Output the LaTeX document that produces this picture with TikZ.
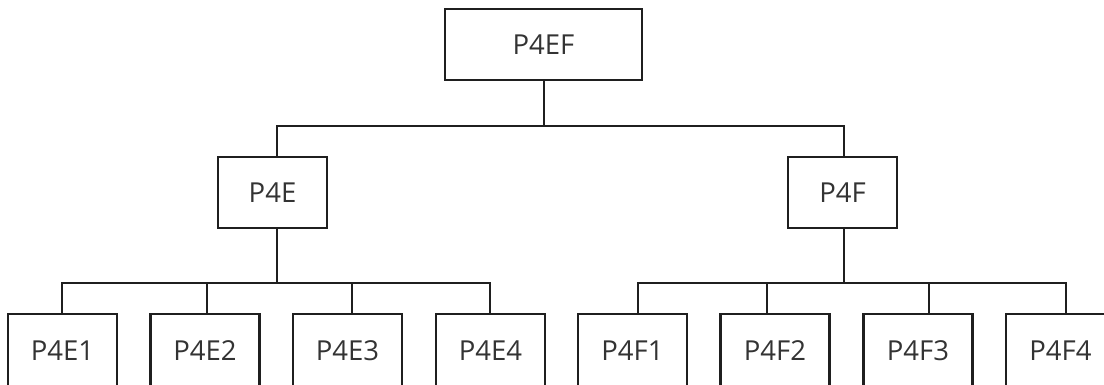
\documentclass[tikz,border=0pt]{standalone}
\usepackage{fontspec}
\setmainfont{Open Sans}
\begin{document}
\begin{tikzpicture}[x=1pt,y=-1pt,
  box/.style={draw=black!88, line width=2.2pt, minimum height=71pt, inner sep=0pt,
    font=\fontsize{27.5}{32}\selectfont, text=black!80},
  bigbox/.style={box, minimum width=197pt},
  midbox/.style={box, minimum width=109pt},
  leaf/.style={box, minimum width=109pt, minimum height=73pt},
  ln/.style={draw=black!88, line width=2.2pt, line join=miter}]
\path[use as bounding box, clip] (0,0) rectangle (1104,385);

\node[bigbox] (ef) at (543.5,44.5) {P4EF};
\node[midbox] (e) at (272.5,192.5) {P4E};
\node[midbox] (f) at (842.5,192.5) {P4F};

\node[leaf] (e1) at (62.5,350.5) {P4E1};
\node[leaf] (e2) at (205,350.5) {P4E2};
\node[leaf] (e3) at (347.5,350.5) {P4E3};
\node[leaf] (e4) at (490.5,350.5) {P4E4};
\node[leaf] (f1) at (632.5,350.5) {P4F1};
\node[leaf] (f2) at (775,350.5) {P4F2};
\node[leaf] (f3) at (918,350.5) {P4F3};
\node[leaf] (f4) at (1060.5,350.5) {P4F4};

% top level
\coordinate (tm) at (544,126);
\coordinate (tl) at (277,126);
\coordinate (tr) at (844,126);
\draw[ln] (ef.south -| tm) -- (tm);
\draw[ln] (tl |- e.north) -- (tl) -- (tr) -- (tr |- f.north);

% E branch
\coordinate (eb) at (277,283);
\coordinate (v1) at (62,283);
\coordinate (v2) at (207,283);
\coordinate (v3) at (352,283);
\coordinate (v4) at (490,283);
\draw[ln] (e.south -| eb) -- (eb);
\draw[ln] (v1 |- e1.north) -- (v1) -- (v4) -- (v4 |- e4.north);
\draw[ln] (v2) -- (v2 |- e2.north);
\draw[ln] (v3) -- (v3 |- e3.north);

% F branch
\coordinate (fb) at (844,283);
\coordinate (w1) at (638,283);
\coordinate (w2) at (767,283);
\coordinate (w3) at (929,283);
\coordinate (w4) at (1066,283);
\draw[ln] (f.south -| fb) -- (fb);
\draw[ln] (w1 |- f1.north) -- (w1) -- (w4) -- (w4 |- f4.north);
\draw[ln] (w2) -- (w2 |- f2.north);
\draw[ln] (w3) -- (w3 |- f3.north);
\end{tikzpicture}
\end{document}
